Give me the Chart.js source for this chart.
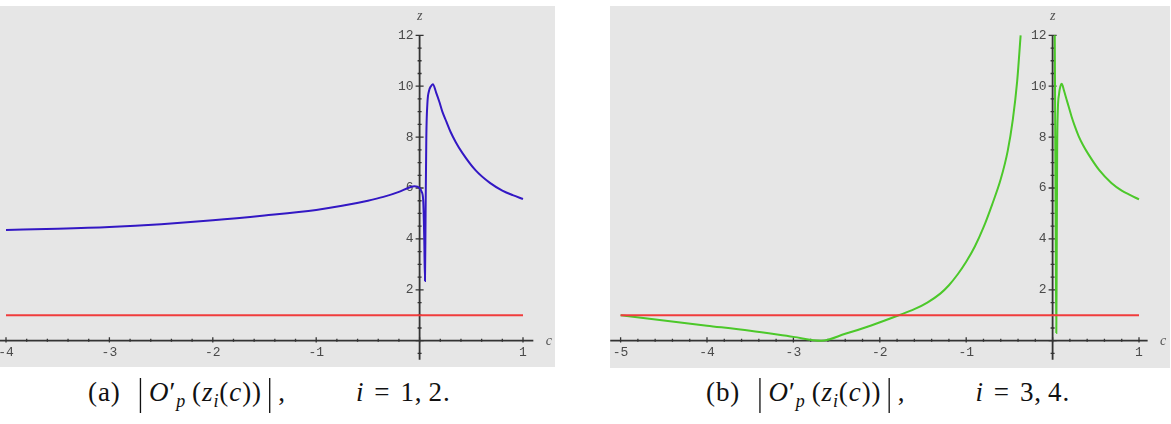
<!DOCTYPE html>
<html>
<head>
<meta charset="utf-8">
<script src="https://cdn.jsdelivr.net/npm/chart.js@4.4.1/dist/chart.umd.min.js"></script>
<style>
  body { margin: 0; background: #fff; width: 1171px; height: 424px; overflow: hidden; position: relative; }
  .panel { position: absolute; top: 6px; }
  .panel canvas { background: #e6e6e6; display: block; }
  .cap { position: absolute; top: 373px; font-family: "Liberation Serif", serif; font-size: 27px; color: #111; white-space: nowrap; line-height: 38px; letter-spacing: 0.9px; }
  .cap i { font-style: italic; }
  .cap sub { font-size: 18px; vertical-align: -6px; line-height: 0; }
  .bar { display: inline-block; transform: scaleY(1.4); margin: 0 5px; }
  .gap { display: inline-block; width: 70px; }
  .eq { margin: 0 10px; }
  .sp { display: inline-block; width: 6px; }
</style>
</head>
<body>
<div class="panel" style="left:0px"><canvas id="chartA" width="555" height="361"></canvas></div>
<div class="panel" style="left:610px"><canvas id="chartB" width="560" height="362"></canvas></div>
<div class="cap" style="left:88px">(a)<span style="margin-left:12px"></span><span class="bar">|</span><i>O</i>′<sub><i>p</i></sub><span class="sp"></span>(<i>z<sub>i</sub></i>(<i>c</i>))<span class="bar">|</span>,<span class="gap"></span><i>i</i><span class="eq">=</span>1,<span class="sp"></span>2.</div>
<div class="cap" style="left:706px">(b)<span style="margin-left:12px"></span><span class="bar">|</span><i>O</i>′<sub><i>p</i></sub><span class="sp"></span>(<i>z<sub>i</sub></i>(<i>c</i>))<span class="bar">|</span>,<span class="gap"></span><i>i</i><span class="eq">=</span>3,<span class="sp"></span>4.</div>
<script>
// panel (a): i = 1, 2
const cBlueA = [-4, -3.5, -3, -2.5, -2, -1.5, -1, -0.75, -0.5, -0.35, -0.2, -0.1, -0.05, 0.0, 0.02, 0.035, 0.045, 0.052, 0.058, 0.065, 0.075, 0.09, 0.11, 0.128, 0.16, 0.19, 0.22, 0.26, 0.3, 0.35, 0.41, 0.54, 0.68, 0.8, 0.9, 1.0];
const zBlueA = [4.35, 4.4, 4.47, 4.58, 4.73, 4.92, 5.14, 5.3, 5.5, 5.65, 5.85, 6.02, 6.07, 6.0, 5.85, 5.5, 4.0, 2.35, 5.0, 8.0, 9.3, 9.8, 10.0, 10.08, 9.75, 9.4, 9.0, 8.6, 8.2, 7.8, 7.4, 6.7, 6.2, 5.9, 5.72, 5.57];
const cRedA = [-4, 1];
const zRedA = [1, 1];

// panel (b): i = 3, 4 (two branches, broken where the curve leaves the plot)
const cGreenLeftB = [-5, -4.5, -4, -3.5, -3, -2.68, -2.4, -2.1, -1.78, -1.6, -1.45, -1.3, -1.2, -1.1, -1.0, -0.9, -0.8, -0.7, -0.6, -0.52, -0.46, -0.41, -0.37];
const zGreenLeftB = [1.0, 0.79, 0.59, 0.39, 0.15, 0.0, 0.27, 0.6, 1.0, 1.24, 1.5, 1.85, 2.18, 2.6, 3.1, 3.7, 4.45, 5.35, 6.35, 7.45, 8.7, 10.2, 12];
const cGreenRightB = [0.025, 0.032, 0.038, 0.043, 0.048, 0.053, 0.06, 0.075, 0.09, 0.106, 0.13, 0.16, 0.19, 0.22, 0.26, 0.3, 0.35, 0.41, 0.54, 0.68, 0.8, 0.9, 1.0];
const zGreenRightB = [12, 7, 3, 0.3, 3.5, 7.5, 9.0, 9.7, 10.0, 10.1, 9.85, 9.5, 9.15, 8.8, 8.4, 8.05, 7.7, 7.35, 6.7, 6.2, 5.9, 5.72, 5.55];
const cRedB = [-5, 1];
const zRedB = [1, 1];

const xTicksA = [-4, -3, -2, -1, 1];
const xTicksB = [-5, -4, -3, -2, -1, 1];
const zTicks = [2, 4, 6, 8, 10, 12];

const pts = (cs, zs) => cs.map((c, i) => ({ x: c, y: zs[i] }));

// Mathematica-like axes crossing at the origin
const mathAxes = {
  id: 'mathAxes',
  beforeDatasetsDraw(chart, args, o) {
    const { ctx, scales: { x, y } } = chart;
    const px = v => x.getPixelForValue(v);
    const py = v => y.getPixelForValue(v);
    ctx.save();
    ctx.strokeStyle = '#333';
    ctx.lineWidth = 1.8;
    ctx.beginPath();
    ctx.moveTo(px(o.xFrom), py(0)); ctx.lineTo(px(o.xTo), py(0));
    ctx.moveTo(px(0), py(o.yFrom)); ctx.lineTo(px(0), py(12));
    ctx.stroke();

    ctx.lineWidth = 1.3;
    ctx.beginPath();
    for (let k = Math.ceil(o.xFrom * 5); k <= Math.floor(o.xTo * 5); k++) {
      const len = k % 5 === 0 ? 3.5 : 2;
      ctx.moveTo(px(k / 5), py(0) - len); ctx.lineTo(px(k / 5), py(0) + len * 0.5);
    }
    for (let k = Math.ceil(o.yFrom * 2); k <= 24; k++) {
      const len = k % 4 === 0 ? 4 : 2;
      ctx.moveTo(px(0) - len, py(k / 2)); ctx.lineTo(px(0) + len, py(k / 2));
    }
    ctx.stroke();

    ctx.fillStyle = '#4a4a4a';
    ctx.font = '13px "Liberation Mono", monospace';
    ctx.textAlign = 'center';
    ctx.textBaseline = 'middle';
    o.xLabels.forEach(v => ctx.fillText(String(v), px(v), py(0) + 12));
    ctx.textAlign = 'right';
    zTicks.forEach(v => ctx.fillText(String(v), px(0) - 6, py(v)));

    ctx.font = 'italic 14px "Liberation Serif", serif';
    ctx.fillStyle = '#555';
    ctx.textAlign = 'center';
    ctx.fillText('z', px(0), py(12) - 19);
    ctx.fillText('c', px(o.cLabel), py(0) + 1);
    ctx.restore();
  }
};

function makeChart(id, width, height, origin, pxPerC, datasets, axisOpts) {
  const Y0 = 334.7, PY = 25.45;
  return new Chart(document.getElementById(id), {
    type: 'line',
    data: { datasets },
    options: {
      responsive: false,
      animation: false,
      events: [],
      layout: { padding: 0 },
      elements: { point: { radius: 0 }, line: { borderWidth: 2, cubicInterpolationMode: 'monotone' } },
      scales: {
        x: { type: 'linear', display: false, min: -origin / pxPerC, max: (width - origin) / pxPerC },
        y: { type: 'linear', display: false, min: (Y0 - height) / PY, max: Y0 / PY }
      },
      plugins: { legend: { display: false }, tooltip: { enabled: false }, mathAxes: axisOpts }
    },
    plugins: [mathAxes]
  });
}

makeChart('chartA', 555, 361, 419.6, 103.4, [
  { data: pts(cRedA, zRedA), borderColor: '#f03c3c', order: 1 },
  { data: pts(cBlueA, zBlueA), borderColor: '#3318c4', order: 2 }
], { xFrom: -4.1, xTo: 1.1, yFrom: -0.75, xLabels: xTicksA, cLabel: 1.25 });

makeChart('chartB', 560, 362, 442.6, 86.4, [
  { data: pts(cRedB, zRedB), borderColor: '#f03c3c', order: 1 },
  { data: pts(cGreenLeftB, zGreenLeftB), borderColor: '#4cc82a', order: 2 },
  { data: pts(cGreenRightB, zGreenRightB), borderColor: '#4cc82a', order: 3 }
], { xFrom: -5.12, xTo: 1.1, yFrom: -0.75, xLabels: xTicksB, cLabel: 1.28 });
</script>
</body>
</html>
